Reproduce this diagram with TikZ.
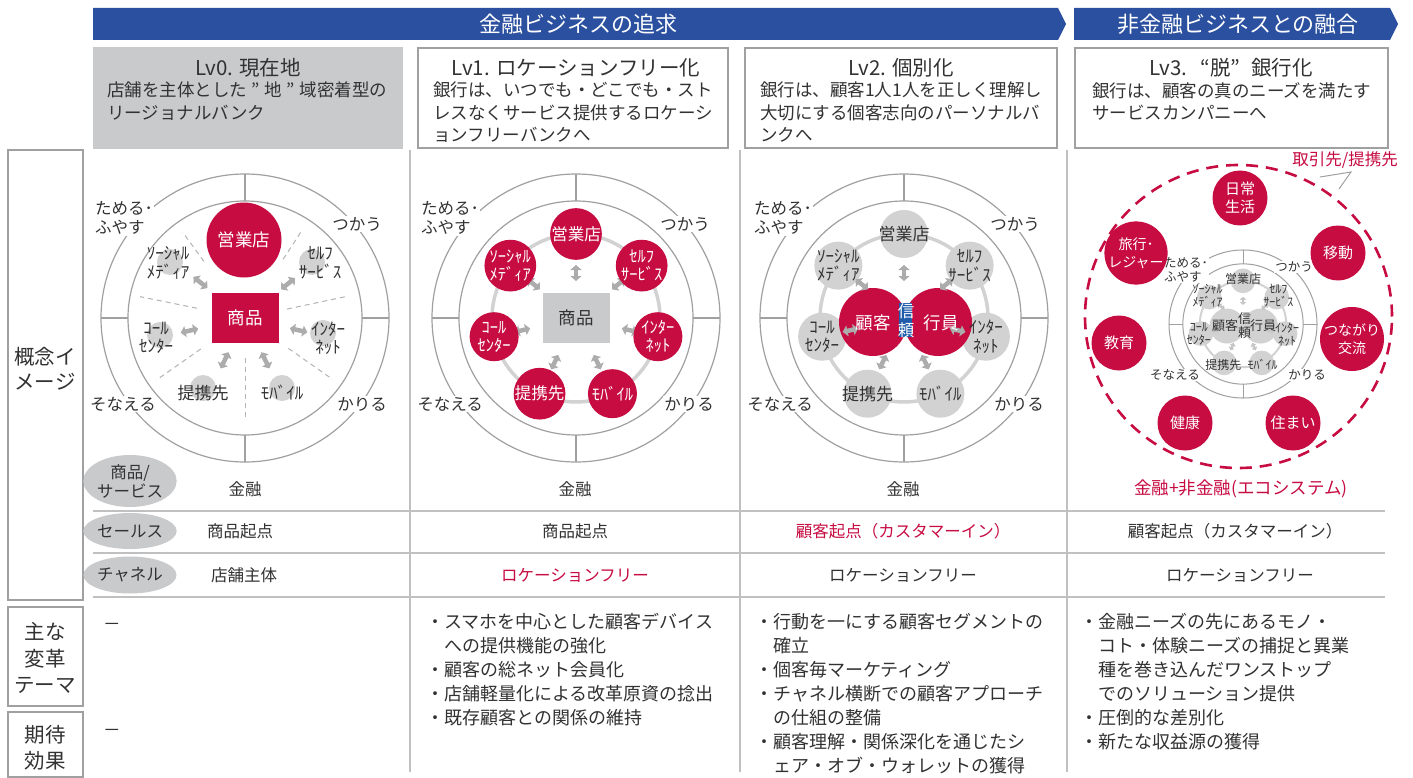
\documentclass[tikz,border=0pt]{standalone}
\usepackage{fontspec}
\setmainfont{Noto Sans CJK JP}
\usetikzlibrary{arrows.meta,shapes.geometric}
\definecolor{crim}{RGB}{199,12,66}
\definecolor{navy}{RGB}{43,80,160}
\definecolor{txt}{RGB}{50,50,50}
\definecolor{lgray}{RGB}{201,202,204}
\definecolor{lineg}{RGB}{192,192,192}
\definecolor{ringg}{RGB}{160,160,160}
\definecolor{chg}{RGB}{210,210,210}
\definecolor{arrg}{RGB}{172,172,172}
\definecolor{trust}{RGB}{32,92,170}
\newcommand\fsz[2]{\fontsize{#1}{#2}\selectfont}
\newcommand\fwq[1]{\makebox[1em][c]{#1}}
\newcommand\chanlist{eg/90/営業店,sf/38.57/{ｾﾙﾌ\\ｻｰﾋﾞｽ},in/-12.86/{ｲﾝﾀｰ\\ﾈｯﾄ},mb/-64.29/ﾓﾊﾞｲﾙ,tk/-115.71/提携先,cc/-167.14/{ｺｰﾙ\\ｾﾝﾀｰ},sm/141.43/{ｿｰｼｬﾙ\\ﾒﾃﾞｨｱ}}
\newcommand\arrlist{90/45,38.57/54,141.43/54,-12.86/55,-167.14/55,-64.29/49,-115.71/49}
\begin{document}
\begin{tikzpicture}[x=1pt,y=-1pt,
  every node/.style={inner sep=0pt,text=txt},
  ringline/.style={draw=ringg,line width=1.2pt},
  dashline/.style={draw=ringg!80,line width=1pt,dash pattern=on 5pt off 4pt},
  sepline/.style={draw=lineg,line width=1.6pt},
  lbox/.style={draw=ringg,line width=2.2pt,fill=white},
  catlbl/.style={fill=white,inner sep=1pt,align=left,font=\fsz{16.5}{19}},
  chlbl/.style={align=center,font=\fsz{17}{18.5}},
  dbl/.style={draw=arrg,line width=4.5pt,arrows={Triangle[length=5pt,width=11pt]-Triangle[length=5pt,width=11pt]}},
  dblsmall/.style={draw=chg,line width=2.4pt,arrows={Triangle[length=3pt,width=6pt]-Triangle[length=3pt,width=6pt]}},
  rowlbl/.style={ellipse,fill=lgray,minimum width=80,align=center,font=\fsz{16.5}{19}},
  rowtxt/.style={font=\fsz{16.5}{16.5}},
  bul/.style={anchor=north west,align=left,font=\fsz{18}{24}},
  hdtitle/.style={font=\fsz{20.5}{20.5}},
  hddesc/.style={anchor=north west,align=left,font=\fsz{17.5}{22.5}},
  redc/.style={circle,fill=crim,text=white,align=center},
  grayc/.style={circle,fill=chg,align=center},
]
\fill[white] (0,0) rectangle (1413,778);
\useasboundingbox (0,0) rectangle (1413,778);

% banners
\fill[navy] (93,8) -- (1058,8) -- (1066,24) -- (1058,40) -- (93,40) -- cycle;
\node[font=\fsz{22}{22},text=white] (ban1) at (578,24) {金融ビジネスの追求};
\fill[navy] (1074,8) -- (1390,8) -- (1398,24) -- (1390,40) -- (1074,40) -- cycle;
\node[font=\fsz{22}{22},text=white] (ban2) at (1238,24) {非金融ビジネスとの融合};

% level boxes
\fill[lgray] (93,47) rectangle (403,149);
\draw[lbox] (418,48) rectangle (728,148);
\draw[lbox] (745,48) rectangle (1057,148);
\draw[lbox] (1075,48) rectangle (1388,148);
\node[hdtitle] (t0) at (248,68) {Lv0. 現在地};
\node[hdtitle] (t1) at (576,68) {Lv1. ロケーションフリー化};
\node[hdtitle] (t2) at (901,68) {Lv2. 個別化};
\node[hdtitle] (t3) at (1231,68) {Lv3. \makebox[0.8em][r]{“}脱\makebox[1em][l]{”}銀行化};
\node[hddesc] (d0) at (107,82) {店舗を主体とした\fwq{”}地\fwq{”}域密着型の\\リージョナルバンク};
\node[hddesc] (d1) at (433,82) {銀行は、いつでも・どこでも・スト\\レスなくサービス提供するロケーシ\\ョンフリーバンクへ};
\node[hddesc] (d2) at (760,82) {銀行は、顧客1人1人を正しく理解し\\大切にする個客志向のパーソナルバ\\ンクへ};
\node[hddesc] (d3) at (1092,82) {銀行は、顧客の真のニーズを満たす\\サービスカンパニーへ};

% left label boxes
\draw[lbox] (8,150) rectangle (83,600);
\node[align=center,font=\fsz{20.5}{25}] (l1) at (45,369) {概念イ\\メージ};
\draw[lbox] (8,607) rectangle (83,706);
\node[align=center,font=\fsz{20.5}{26.5}] (l2) at (45,658) {主な\\変革\\テーマ};
\draw[lbox] (8,712) rectangle (83,777);
\node[align=center,font=\fsz{20.5}{26}] (l3) at (45,748) {期待\\効果};

% separators
\foreach \x in {410,740,1067}{\draw[sepline] (\x,150) -- (\x,772);}
\foreach \y in {511,553,597}{\draw[sepline] (93,\y) -- (1385,\y);}

% ---------- column 0 ----------
\begin{scope}[shift={(245,318)},yscale=-1]
\draw[ringline] (0,0) circle[radius=144pt];
\draw[ringline] (0,0) circle[radius=117pt];
\foreach \a in {0,90,180,270}{\draw[ringline] (\a:117) -- (\a:144);}
\foreach \a/\r/\R in {126/70/106,57/70/103,168.5/49/107,12/43/105,-145/54/108,-35/53/107,-90/40/100}{\draw[dashline] (\a:\r) -- (\a:\R);}
\foreach \p in {(67,56),(78,-15),(37,-70),(-42,-70),(-85,-17),(-75,56)}{\fill[chg] \p circle[radius=13pt];}
\node[redc,minimum size=75,font=\fsz{17.5}{17.5}] (z0eg) at (-1,78) {営業店};
\node[fill=crim,minimum width=67,minimum height=50,text=white,font=\fsz{17.5}{17.5}] (z0sq) at (0,0) {商品};
\foreach \a/\m in {38.57/55,141.43/57,-12.86/55,-167.14/57,-64.29/47,-115.71/47}{\draw[dbl] ({\a}:{\m-9}) -- ({\a}:{\m+9});}
\node[chlbl] (z0sf) at (75,55) {ｾﾙﾌ\\ｻｰﾋﾞｽ};
\node[chlbl] (z0in) at (83,-20) {ｲﾝﾀｰ\\ﾈｯﾄ};
\node[chlbl] (z0mb) at (37,-75) {ﾓﾊﾞｲﾙ};
\node[chlbl] (z0tk) at (-42,-75) {提携先};
\node[chlbl] (z0cc) at (-89,-20) {ｺｰﾙ\\ｾﾝﾀｰ};
\node[chlbl] (z0sm) at (-77,55) {ｿｰｼｬﾙ\\ﾒﾃﾞｨｱ};
\node[catlbl] (z0c1) at (-121,100) {ためる･\\ふやす};
\node[catlbl] (z0c2) at (112,94) {つかう};
\node[catlbl] (z0c3) at (-122,-86) {そなえる};
\node[catlbl] (z0c4) at (117,-86) {かりる};
\end{scope}

% ---------- column 1 ----------
\begin{scope}[shift={(576,318)},yscale=-1]
\draw[ringline] (0,0) circle[radius=144pt];
\draw[ringline] (0,0) circle[radius=117pt];
\foreach \a in {0,90,180,270}{\draw[ringline] (\a:117) -- (\a:144);}
\draw[draw=chg,line width=3.5pt] (0,0) circle[radius=84pt];
\node[fill=lgray,minimum width=67,minimum height=50,font=\fsz{17.5}{17.5}] (z1sq) at (0,0) {商品};
\foreach \a/\m in \arrlist {\draw[dbl] ({\a}:{\m-8}) -- ({\a}:{\m+8});}
\foreach \n/\a/\t in \chanlist {\node[redc,minimum size=49,font=\fsz{16.5}{18}] (z1\n) at (\a:84) {\t};}
\node[catlbl] (z1c1) at (-126,100) {ためる･\\ふやす};
\node[catlbl] (z1c2) at (109,94) {つかう};
\node[catlbl] (z1c3) at (-126,-86) {そなえる};
\node[catlbl] (z1c4) at (113,-86) {かりる};
\end{scope}

% ---------- column 2 ----------
\begin{scope}[shift={(904,318)},yscale=-1]
\draw[ringline] (0,0) circle[radius=144pt];
\draw[ringline] (0,0) circle[radius=117pt];
\foreach \a in {0,90,180,270}{\draw[ringline] (\a:117) -- (\a:144);}
\draw[draw=chg,line width=3.5pt] (0,0) circle[radius=84pt];
\foreach \n/\a/\t in \chanlist {\node[grayc,minimum size=48] (z2b\n) at (\a:84) {};}
\node[circle,fill=crim,minimum size=68] (z2ko) at (-31,-4) {};
\node[circle,fill=crim,minimum size=68] (z2ki) at (34,-4) {};
\foreach \a/\m in \arrlist {\draw[dbl] ({\a}:{\m-8}) -- ({\a}:{\m+8});}
\foreach \n/\a/\t in \chanlist {\node[chlbl] (z2\n) at (\a:84) {\t};}
\node[text=white,font=\fsz{17.5}{17.5}] (z2kot) at (-31,-5) {顧客};
\node[text=white,font=\fsz{17.5}{17.5}] (z2kit) at (37,-5) {行員};
\fill[trust] (-5,15) rectangle (8,-19);
\node[text=white,align=center,font=\fsz{16.5}{19}] (z2tr) at (2,-3) {信\\頼};
\node[catlbl] (z2c1) at (-121,100) {ためる･\\ふやす};
\node[catlbl] (z2c2) at (111,94) {つかう};
\node[catlbl] (z2c3) at (-124,-86) {そなえる};
\node[catlbl] (z2c4) at (115,-86) {かりる};
\end{scope}

% ---------- column 3 ----------
\draw[crim,line width=2.6pt,dash pattern=on 12pt off 8pt] (1238.5,316.5) ellipse[x radius=153.5pt,y radius=151.5pt];
\begin{scope}[shift={(1243,324)},scale=0.514,yscale=-1]
\draw[draw=ringg,line width=1pt] (0,0) circle[radius=144pt];
\draw[draw=ringg,line width=1pt] (0,0) circle[radius=117pt];
\foreach \a in {0,90,180,270}{\draw[draw=ringg,line width=1pt] (\a:117) -- (\a:144);}
\draw[draw=chg,line width=2pt] (0,0) circle[radius=84pt];
\foreach \n/\a/\t in \chanlist {\fill[chg] (\a:84) circle[radius=24pt];}
\fill[chg] (-31,-4) circle[radius=34pt];
\fill[chg] (34,-4) circle[radius=34pt];
\foreach \a/\m in \arrlist {\draw[dblsmall,draw=arrg!70] ({\a}:{\m-8}) -- ({\a}:{\m+8});}
\foreach \n/\a/\t in \chanlist {\node[align=center,font=\fsz{12}{13}] (z3\n) at (\a:88) {\t};}
\node[font=\fsz{13}{13}] (z3kot) at (-35,-4) {顧客};
\node[font=\fsz{13}{13}] (z3kit) at (39,-4) {行員};
\node[align=center,font=\fsz{13}{14.5}] (z3tr) at (3,-3) {信\\頼};
\end{scope}
\node[catlbl,font=\fsz{12.5}{14}] (z3c1) at (1186,270) {ためる･\\ふやす};
\node[catlbl,font=\fsz{12.5}{14}] (z3c2) at (1294,267) {つかう};
\node[catlbl,font=\fsz{12.5}{14}] (z3c3) at (1175,375) {そなえる};
\node[catlbl,font=\fsz{12.5}{14}] (z3c4) at (1307,375) {かりる};

\node[redc,minimum size=55,font=\fsz{15}{18}] (o1) at (1240,198) {日常\\生活};
\node[redc,minimum size=55,font=\fsz{15}{18}] (o2) at (1338,253) {移動};
\node[redc,minimum size=55,font=\fsz{14}{18}] (o3) at (1352,339) {つながり\\交流};
\node[redc,minimum size=55,font=\fsz{15}{18}] (o4) at (1293,423) {住まい};
\node[redc,minimum size=55,font=\fsz{15}{18}] (o5) at (1185,423) {健康};
\node[redc,minimum size=55,font=\fsz{15}{18}] (o6) at (1119,343) {教育};
\node[redc,minimum size=55,font=\fsz{14}{18}] (o7) at (1136,253) {旅行･\\レジャー};

\node[text=crim,font=\fsz{16.5}{16.5}] (pt) at (1345,160) {取引先/提携先};
\coordinate (ld) at (1351,172);
\coordinate (ld1) at (1320,177);
\coordinate (ld2) at (1339,189);
\draw[draw=ringg,line width=1pt] (ld1) -- (ld) -- (ld2);

% ---------- rows ----------
\node[rowlbl,minimum height=52] (r1) at (130,481) {商品/\\サービス};
\node[rowlbl,minimum height=36] (r2) at (130,531) {セールス};
\node[rowlbl,minimum height=37] (r3) at (130,575) {チャネル};

\node[rowtxt] (a1) at (245,489) {金融};
\node[rowtxt] (a2) at (575,489) {金融};
\node[rowtxt] (a3) at (903,489) {金融};
\node[rowtxt,font=\fsz{17.5}{17.5},text=crim] (a4) at (1241,489) {金融+非金融(エコシステム)};
\node[rowtxt] (b1) at (240,531) {商品起点};
\node[rowtxt] (b2) at (575,531) {商品起点};
\node[rowtxt,text=crim] (b3) at (903,531) {顧客起点（カスタマーイン）};
\node[rowtxt] (b4) at (1235,531) {顧客起点（カスタマーイン）};
\node[rowtxt] (c1) at (244,575) {店舗主体};
\node[rowtxt,text=crim] (c2) at (575,575) {ロケーションフリー};
\node[rowtxt] (c3) at (903,575) {ロケーションフリー};
\node[rowtxt] (c4) at (1240,575) {ロケーションフリー};

% ---------- bottom ----------
\node[font=\fsz{17.5}{17.5}] (m0) at (112,627) {－};
\node[font=\fsz{17.5}{17.5}] (e0) at (112,733) {－};
\node[bul] (m1) at (426,613) {・スマホを中心とした顧客デバイス\\　への提供機能の強化\\・顧客の総ネット会員化\\・店舗軽量化による改革原資の捻出\\・既存顧客との関係の維持};
\node[bul] (m2) at (755,613) {・行動を一にする顧客セグメントの\\　確立\\・個客毎マーケティング\\・チャネル横断での顧客アプローチ\\　の仕組の整備\\・顧客理解・関係深化を通じたシ\\　ェア・オブ・ウォレットの獲得};
\node[bul] (m3) at (1080,613) {・金融ニーズの先にあるモノ・\\　コト・体験ニーズの捕捉と異業\\　種を巻き込んだワンストップ\\　でのソリューション提供\\・圧倒的な差別化\\・新たな収益源の獲得};
\end{tikzpicture}
\end{document}
